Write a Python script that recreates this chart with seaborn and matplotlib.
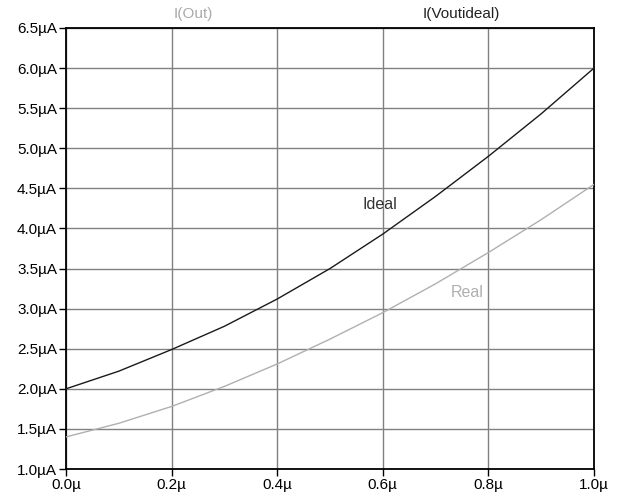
import matplotlib
matplotlib.use("Agg")
import matplotlib.pyplot as plt
import seaborn as sns
import pandas as pd

x_vals = [0.0, 0.1, 0.2, 0.3, 0.4, 0.5, 0.6, 0.7, 0.8, 0.9, 1.0]
ideal = [2.00, 2.22, 2.49, 2.78, 3.12, 3.50, 3.93, 4.40, 4.90, 5.43, 6.00]
real = [1.40, 1.57, 1.78, 2.03, 2.31, 2.62, 2.95, 3.31, 3.70, 4.11, 4.55]
x_ticks = [0.0, 0.2, 0.4, 0.6, 0.8, 1.0]
x_labels = ["0.0µ", "0.2µ", "0.4µ", "0.6µ", "0.8µ", "1.0µ"]
y_ticks = [1.0, 1.5, 2.0, 2.5, 3.0, 3.5, 4.0, 4.5, 5.0, 5.5, 6.0, 6.5]
y_labels = [f"{v:.1f}µA" for v in y_ticks]

sns.set_theme(style="white")
plt.rcParams['font.family'] = ['Liberation Sans', 'DejaVu Sans']

df = pd.DataFrame({"x": x_vals * 2, "y": ideal + real,
                   "series": ["Ideal"] * len(x_vals) + ["Real"] * len(x_vals)})

fig = plt.figure(figsize=(6.21, 4.97), dpi=100)
ax = fig.add_axes([66/621, 1-469/497, (594-66)/621, (469-28)/497])
sns.lineplot(data=df, x="x", y="y", hue="series",
             palette={"Ideal": "#1a1a1a", "Real": "#b0b0b0"},
             linewidth=1.0, legend=False, ax=ax, zorder=3)

ax.set_xlim(0, 1.0)
ax.set_ylim(1.0, 6.5)
ax.set_xticks(x_ticks)
ax.set_xticklabels(x_labels)
ax.set_yticks(y_ticks)
ax.set_yticklabels(y_labels)
ax.grid(True, color="#808080", linewidth=1.0)
ax.set_axisbelow(True)
for s in ax.spines.values():
    s.set_color("black")
    s.set_linewidth(1.3)
ax.tick_params(axis="both", direction="out", length=5, width=1, color="black",
               labelsize=11, labelcolor="black", pad=1.5,
               left=True, bottom=True)
ax.set_xlabel("")
ax.set_ylabel("")

ax.text(0.595, 4.3, "Ideal", color="#333333", fontsize=11.5, ha="center", va="center")
ax.text(0.76, 3.2, "Real", color="#b0b0b0", fontsize=11.5, ha="center", va="center")

fig.text(193/621, 1-14/497, "I(Out)", color="#aaaaaa", fontsize=11, ha="center", va="center")
fig.text(461/621, 1-14/497, "I(Voutideal)", color="#222222", fontsize=11, ha="center", va="center")

fig.savefig("out.png", dpi=100)
